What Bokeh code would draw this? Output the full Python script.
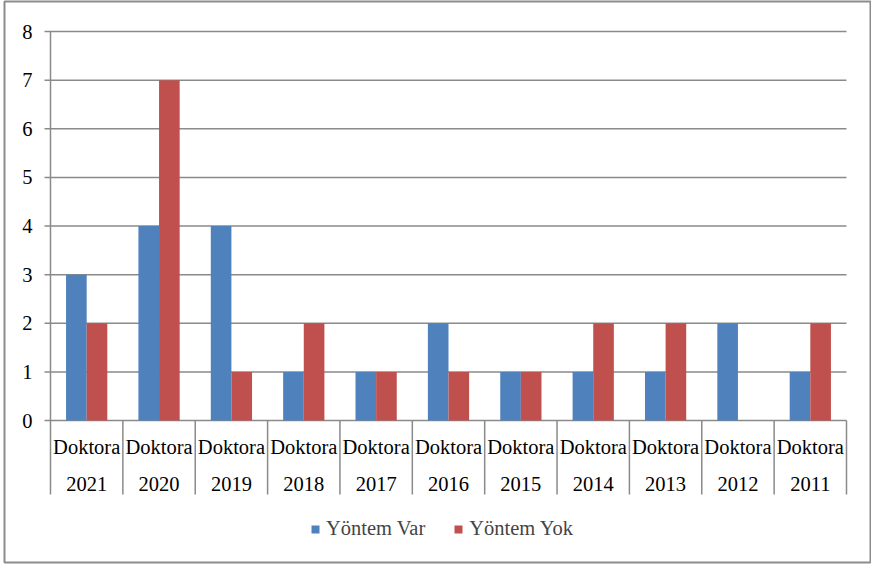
from bokeh.plotting import figure
from bokeh.models import Range1d, ColumnDataSource, Legend, LegendItem
from bokeh.core.properties import value
from bokeh.embed import file_html
from bokeh.resources import INLINE

# ---- data ----
years = ["2021", "2020", "2019", "2018", "2017", "2016", "2015", "2014", "2013", "2012", "2011"]
level = "Doktora"
yontem_var = [3, 4, 4, 1, 1, 2, 1, 1, 1, 2, 1]
yontem_yok = [2, 7, 1, 2, 1, 1, 1, 2, 2, 0, 2]
y_ticks = [0, 1, 2, 3, 4, 5, 6, 7, 8]
series_names = ["Yöntem Var", "Yöntem Yok"]

# ---- layout (pixels, figure coords) ----
W, H = 871, 564
BL, BT, BR, BB = 4, 1, 0, 2          # border insets
left, right = 50, 846
top, zero = 31, 420
n = len(years)
ymax = y_ticks[-1]
xs = (right - left) / n
ys = (zero - top) / ymax
FONT = "Times"
FS = "20.5px"
GRID = "#8a8a8a"
BLUE = "#4F81BD"
RED = "#C0504D"
bar_w = 0.285
tick_len = 6 / xs
sep_depth = 74 / ys
lvl1_y = -26 / ys
lvl2_y = -63 / ys

p = figure(width=W, height=H, output_backend="svg", toolbar_location=None,
           x_range=Range1d(-(left - BL) / xs, n + (W - BR - right) / xs),
           y_range=Range1d(-(H - BB - zero) / ys, ymax + (top - BT) / ys),
           x_axis_type=None, y_axis_type=None,
           min_border_left=BL, min_border_top=BT, min_border_right=BR, min_border_bottom=BB,
           background_fill_color="white", border_fill_color="white")
p.grid.visible = False
p.outline_line_color = "#8c8c8c"
p.outline_line_width = 2

centers = [i + 0.5 for i in range(n)]

# grid lines + ticks
p.segment(x0=[-tick_len] * len(y_ticks), y0=y_ticks, x1=[n] * len(y_ticks), y1=y_ticks,
          line_color=GRID, line_width=1.5)
# y axis line
p.segment(x0=[0], y0=[0], x1=[0], y1=[ymax], line_color=GRID, line_width=1.5)
# category separators
p.segment(x0=list(range(n + 1)), y0=[0] * (n + 1), x1=list(range(n + 1)),
          y1=[-sep_depth] * (n + 1), line_color=GRID, line_width=1.5)

src = ColumnDataSource(dict(x=centers, var=yontem_var, yok=yontem_yok,
                            xv=[c - bar_w / 2 for c in centers],
                            xy=[c + bar_w / 2 for c in centers]))
r1 = p.vbar(x="xv", top="var", width=bar_w, source=src, fill_color=BLUE, line_color=None)
r2 = p.vbar(x="xy", top="yok", width=bar_w, source=src, fill_color=RED, line_color=None)

# y tick labels
p.text(x=[0] * len(y_ticks), y=y_ticks, text=[str(t) for t in y_ticks], x_offset=-18,
       text_align="right", text_baseline="middle", text_font=value(FONT),
       text_font_size=FS, text_color="black")
# category labels
p.text(x=centers, y=[lvl1_y] * n, text=[level] * n, text_align="center",
       text_baseline="middle", text_font=value(FONT), text_font_size=FS, text_color="black")
p.text(x=centers, y=[lvl2_y] * n, text=years, text_align="center",
       text_baseline="middle", text_font=value(FONT), text_font_size=FS, text_color="black")

legend = Legend(items=[LegendItem(label=series_names[0], renderers=[r1]),
                       LegendItem(label=series_names[1], renderers=[r2])],
                location=(306, 22), orientation="horizontal",
                glyph_width=10, glyph_height=10, label_standoff=6, spacing=28,
                padding=0, margin=0, label_text_font=FONT, label_text_font_size=FS,
                background_fill_alpha=0, border_line_color=None)
p.add_layout(legend)

open("out.html", "w").write(file_html(p, INLINE))
